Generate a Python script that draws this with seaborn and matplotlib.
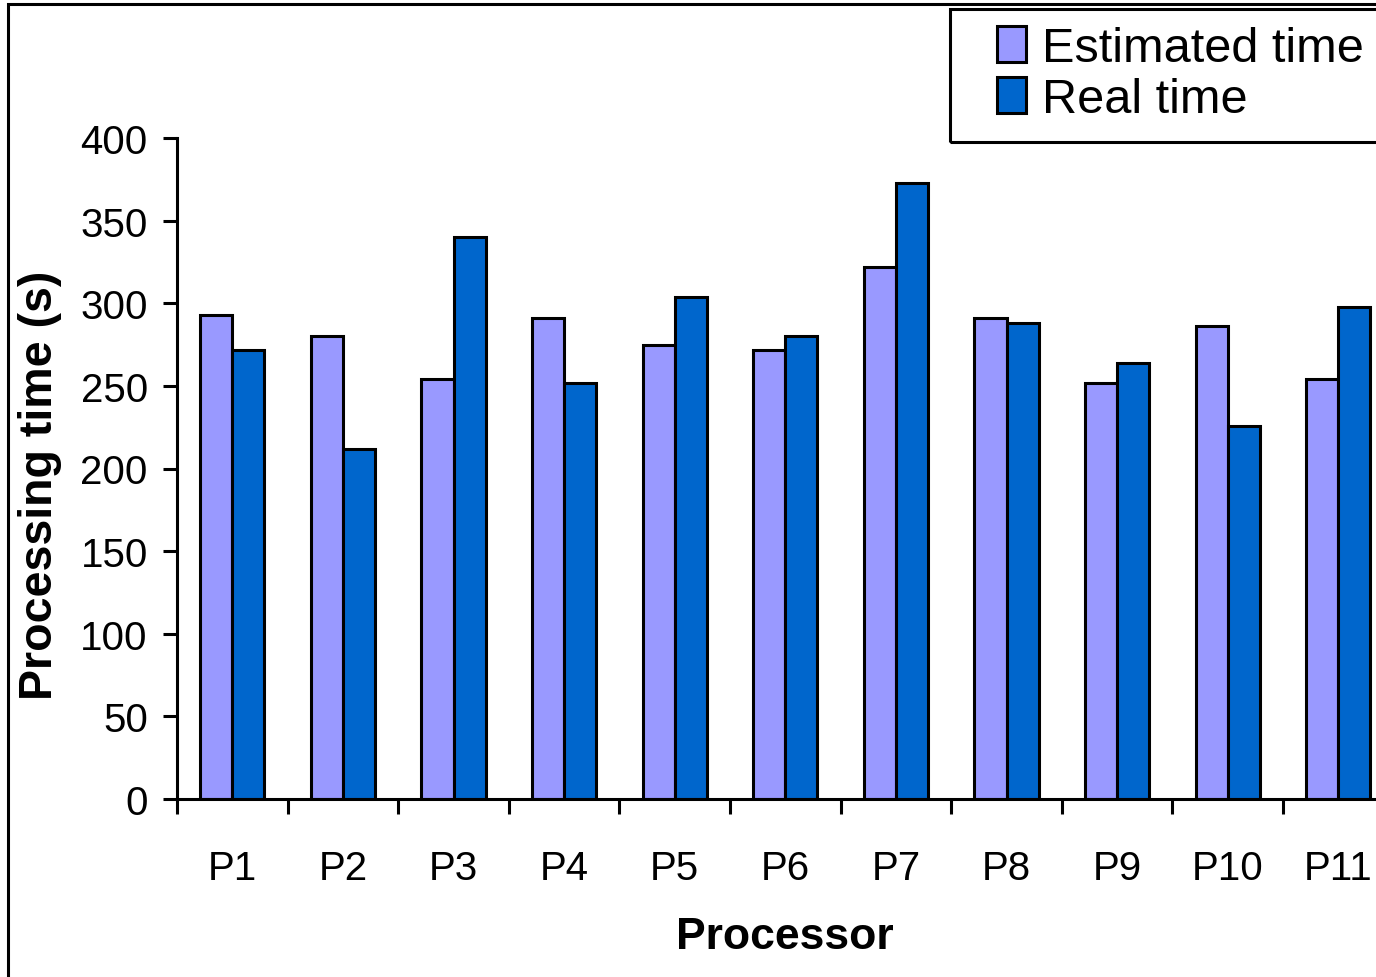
import numpy as np
import pandas as pd
import seaborn as sns
import matplotlib.pyplot as plt
from matplotlib.patches import Rectangle, Patch

# Values (seconds)
processors = ["P1", "P2", "P3", "P4", "P5", "P6", "P7", "P8", "P9", "P10", "P11"]
estimated_time = [293, 280, 254, 291, 275, 272, 322, 291, 252, 286, 254]
real_time = [272, 212, 340, 252, 304, 280, 373, 288, 264, 226, 298]
series_names = ["Estimated time", "Real time"]
colors = ["#9999FF", "#0066CC"]

df = pd.DataFrame({
    "Processor": processors * 2,
    "Time": estimated_time + real_time,
    "Series": [series_names[0]] * len(processors) + [series_names[1]] * len(processors),
})

sns.set_theme(style="white")
plt.rcParams["font.family"] = ["Liberation Sans", "DejaVu Sans"]
plt.rcParams["text.color"] = "black"
plt.rcParams["axes.labelcolor"] = "black"
plt.rcParams["xtick.color"] = "black"
plt.rcParams["ytick.color"] = "black"

W, H = 1376, 978
fig = plt.figure(figsize=(W / 100, H / 100), dpi=100)

# axes placed in pixel terms; right end runs past the figure edge
left_px, right_px, top_px, bottom_px = 177, 177 + 11 * 110.6, 139, 800
ax = fig.add_axes([left_px / W, 1 - bottom_px / H,
                   (right_px - left_px) / W, (bottom_px - top_px) / H])

sns.barplot(data=df, x="Processor", y="Time", hue="Series", palette=colors,
            saturation=1, width=0.58, gap=0, edgecolor="black", linewidth=2.2,
            ax=ax, legend=False)

ax.set_xlim(-0.5, len(processors) - 0.5)
ax.set_ylim(0, 400)
ax.set_yticks(np.arange(0, 401, 50))
ax.tick_params(axis="y", labelsize=29, length=10, width=2.2, direction="out",
               pad=11, left=True)

# tick marks at category boundaries, labels at centres
ax.set_xticks(np.arange(-0.5, len(processors), 1))
ax.set_xticklabels([])
ax.set_xticks(np.arange(len(processors)), minor=True)
ax.set_xticklabels(processors, minor=True, fontsize=29)
ax.tick_params(axis="x", which="major", length=11, width=2.2, direction="out",
               bottom=True)
ax.tick_params(axis="x", which="minor", length=0, pad=36)

for s in ["top", "right"]:
    ax.spines[s].set_visible(False)
for s in ["left", "bottom"]:
    ax.spines[s].set_linewidth(2.2)
    ax.spines[s].set_color("black")

ax.set_ylabel("Processing time (s)", fontsize=33.5, fontweight="bold")
ax.yaxis.set_label_coords(-0.0945, 0.4766)
ax.set_xlabel("Processor", fontsize=32, fontweight="bold", labelpad=21)

# legend in the top right corner, its frame runs past the figure edge
handles = [Patch(facecolor=c, edgecolor="black", linewidth=2.2) for c in colors]
leg = fig.legend(handles, series_names, loc="upper left",
                 bbox_to_anchor=(997 / W, 1 - 27 / H), fontsize=35,
                 frameon=False, handlelength=0.6, handleheight=0.75,
                 handletextpad=0.32, labelspacing=0.12, borderpad=0,
                 borderaxespad=0)
fig.patches.append(Rectangle((950 / W, 1 - 143 / H), 1.0, (143 - 10) / H,
                             transform=fig.transFigure, fill=False,
                             edgecolor="black", linewidth=2.2))

# outer chart frame (cut off at right and bottom in the original)
fig.patches.append(Rectangle((8 / W, -0.1), 1.2, 1 - 5 / H + 0.1,
                             transform=fig.transFigure, fill=False,
                             edgecolor="black", linewidth=2.2))

fig.savefig("out.png", dpi=100)
